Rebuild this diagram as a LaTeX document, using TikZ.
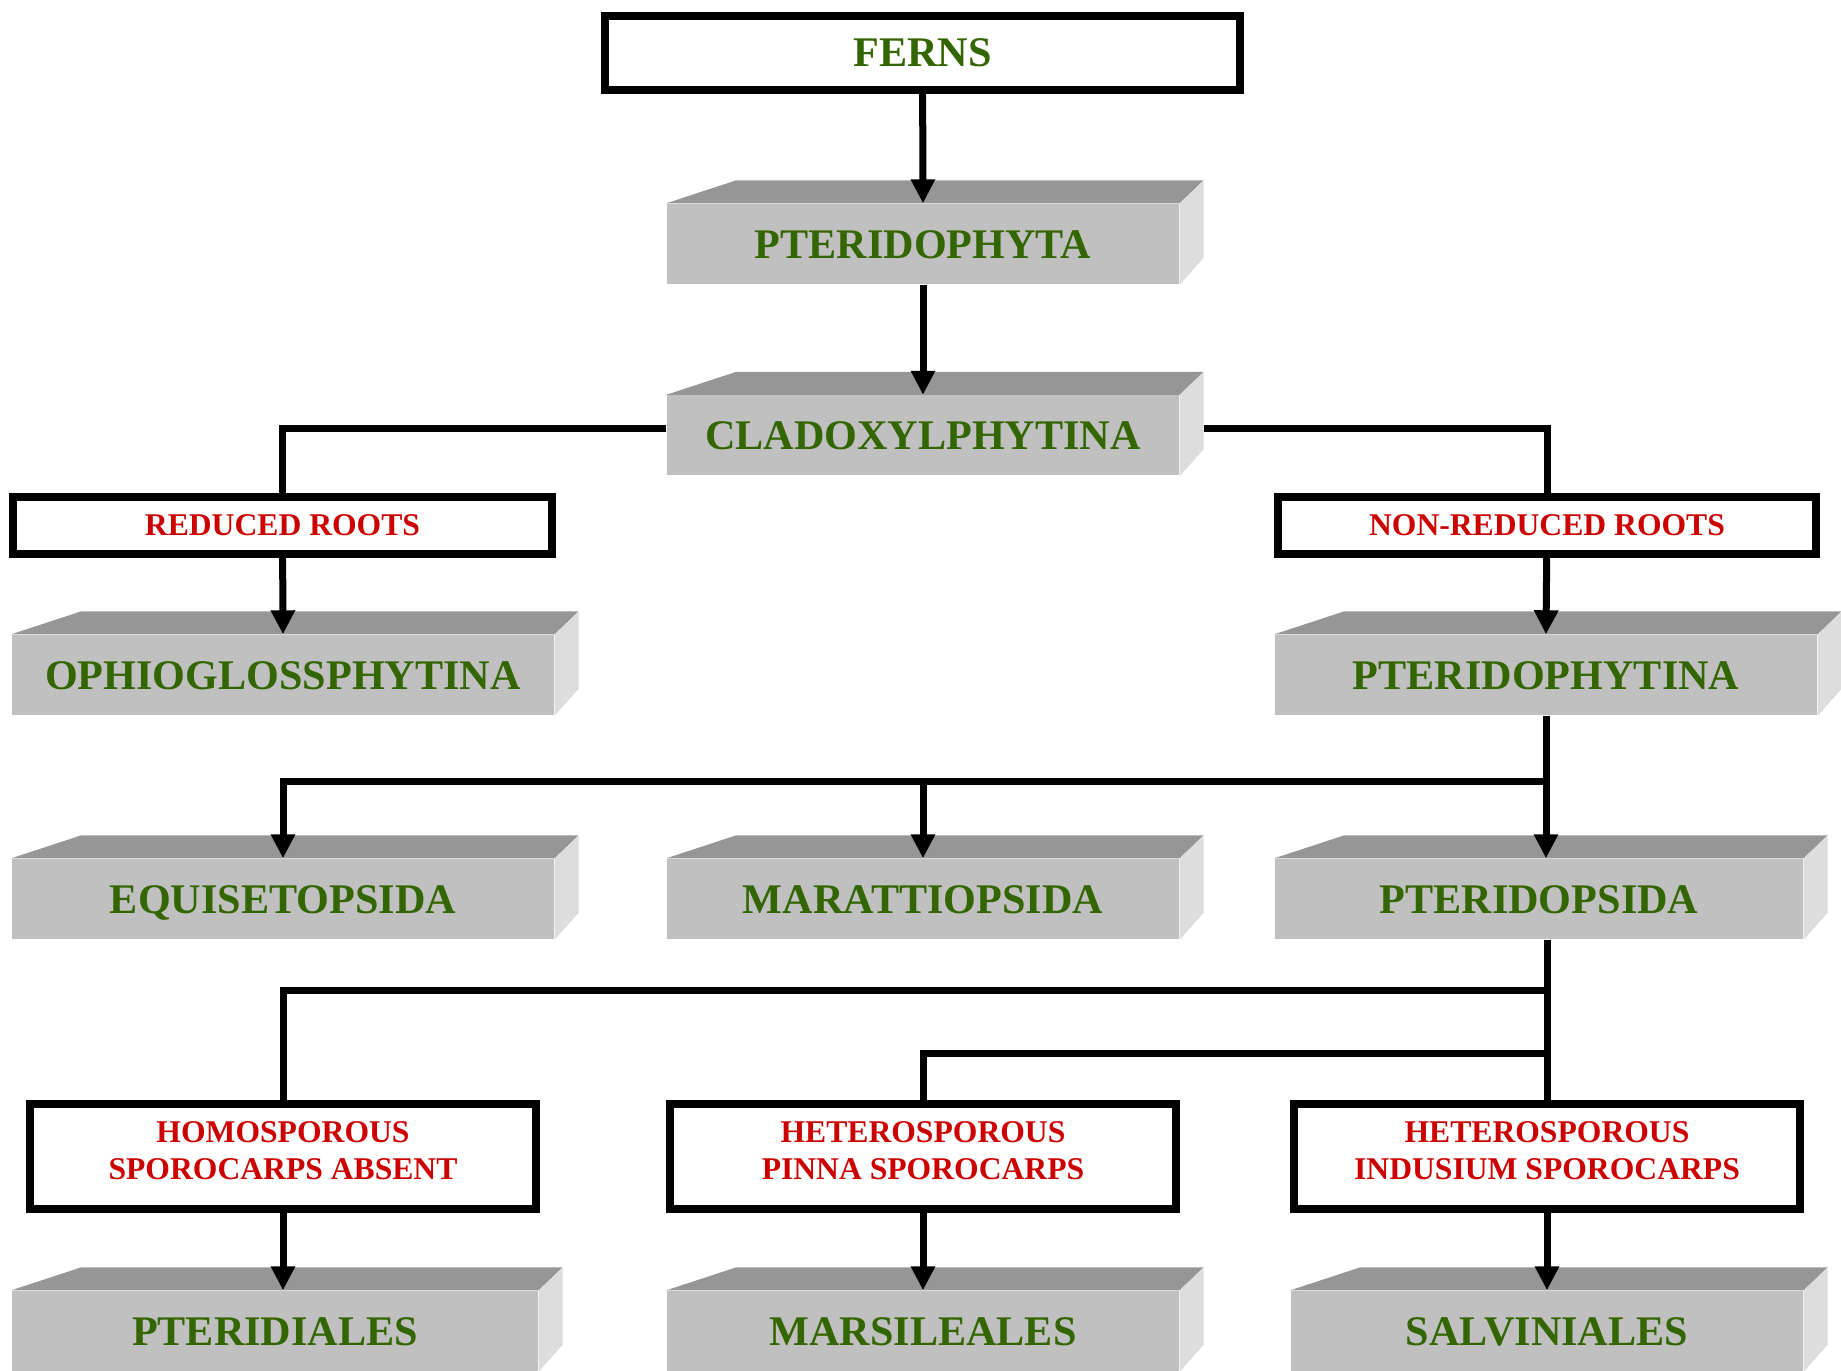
\documentclass[tikz,border=0pt]{standalone}
\usepackage{fontspec}
\setmainfont{Liberation Serif}
\usetikzlibrary{arrows.meta, calc}
\definecolor{ferngreen}{RGB}{51,102,0}
\definecolor{rootred}{RGB}{204,0,0}
\definecolor{facegray}{RGB}{192,192,192}
\definecolor{topgray}{RGB}{150,150,150}
\definecolor{sidegray}{RGB}{221,221,221}

\begin{document}
\begin{tikzpicture}[
    slab/.style={rectangle, fill=facegray, minimum height=0.8cm, inner sep=0pt, text height=8pt, text depth=0pt, text=ferngreen, font=\fontsize{12}{14}\selectfont\bfseries},
    rank/.style={rectangle, draw, line width=0.08cm, fill=white, inner sep=0pt, align=center, text=rootred, font=\fontsize{9}{10.7}\selectfont\bfseries},
    spore/.style={rank, minimum width=5.06cm, minimum height=1.05cm, text depth=3.4pt},
    arrow/.style={-{Triangle[width=0.23cm,length=0.24cm]}, line width=0.07cm},
    link/.style={line width=0.07cm}
]
\useasboundingbox (0,0) rectangle (18.41,13.70);

% Top of the tree
\node[rank, minimum width=6.35cm, minimum height=0.74cm, text=ferngreen, font=\fontsize{12}{14}\selectfont\bfseries] (ferns) at (9.225,13.17) {FERNS};
\node[slab, minimum width=5.12cm] (pdphyta) at (9.23,11.26) {PTERIDOPHYTA};
\node[slab, minimum width=5.12cm] (clado) at (9.23,9.345) {CLADOXYLPHYTINA};

% Roots
\node[rank, minimum width=5.39cm, minimum height=0.57cm] (reduced) at (2.825,8.445) {REDUCED ROOTS};
\node[rank, minimum width=5.38cm, minimum height=0.57cm] (nonred) at (15.47,8.445) {NON-REDUCED ROOTS};
\node[slab, minimum width=5.42cm] (ophio) at (2.83,6.95) {OPHIOGLOSSPHYTINA};
\node[slab, minimum width=5.42cm] (pdphytina) at (15.46,6.95) {PTERIDOPHYTINA};

% Classes
\node[slab, minimum width=5.42cm] (equi) at (2.83,4.71) {EQUISETOPSIDA};
\node[slab, minimum width=5.12cm] (maratt) at (9.23,4.71) {MARATTIOPSIDA};
\node[slab, minimum width=5.28cm] (pdopsida) at (15.39,4.71) {PTERIDOPSIDA};

% Spores
\node[spore] (homo) at (2.83,2.135) {HOMOSPOROUS\\SPOROCARPS ABSENT};
\node[spore] (pinna) at (9.23,2.135) {HETEROSPOROUS\\PINNA SPOROCARPS};
\node[spore] (indus) at (15.47,2.135) {HETEROSPOROUS\\INDUSIUM SPOROCARPS};

% Orders
\node[slab, minimum width=5.26cm] (pteridiales) at (2.75,0.39) {PTERIDIALES};
\node[slab, minimum width=5.12cm] (marsil) at (9.23,0.39) {MARSILEALES};
\node[slab, minimum width=5.12cm] (salvin) at (15.47,0.39) {SALVINIALES};

% top and side faces of the slabs
\foreach \n in {pdphyta, clado, ophio, pdphytina, equi, maratt, pdopsida, pteridiales, marsil, salvin} {
    \fill[topgray] (\n.north west) -- ++(0.70,0.23) -- ([shift={(0.24,0.23)}]\n.north east) -- (\n.north east) -- cycle;
    \fill[sidegray] (\n.north east) -- ++(0.24,0.23) -- ([shift={(0.24,0.27)}]\n.south east) -- (\n.south east) -- cycle;
}

% Connectors
\draw[arrow] (ferns) -- (pdphyta.north);
\draw[arrow] (pdphyta) -- (clado.north);
\draw[link] ([yshift=0.07cm]clado.west) -| (reduced.north);
\draw[link] ([shift={(0.24,0.07)}]clado.east) -| (nonred.north);
\draw[arrow] (reduced) -- (ophio.north);
\draw[arrow] (nonred) -- (pdphytina.north);

\coordinate (fork1) at (15.46,5.89);
\draw[arrow] (pdphytina.south) -- (pdopsida.north -| pdphytina.south);
\draw[arrow] (fork1) -| (equi.north);
\draw[arrow] (fork1) -| (maratt.north);

\coordinate (fork2) at (15.47,3.80);
\coordinate (fork3) at (15.47,3.17);
\draw[link] (pdopsida.south -| indus.north) -- (indus.north);
\draw[link] (fork2) -| (homo.north);
\draw[link] (fork3) -| (pinna.north);

\draw[arrow] (homo.south) -- (pteridiales.north -| homo.south);
\draw[arrow] (pinna) -- (marsil.north);
\draw[arrow] (indus) -- (salvin.north);

\end{tikzpicture}
\end{document}
